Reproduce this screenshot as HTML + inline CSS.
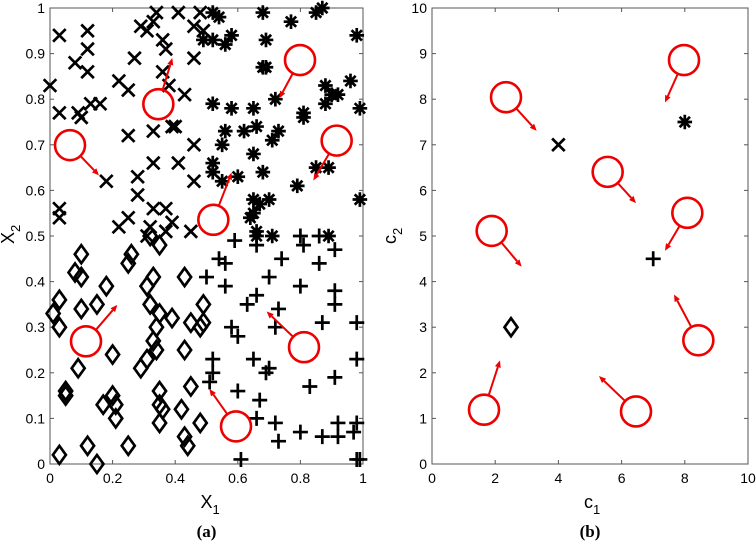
<!DOCTYPE html>
<html><head><meta charset="utf-8"><style>
html,body{margin:0;padding:0;background:#fff;}
svg{display:block;font-family:"Liberation Sans",sans-serif;}
</style></head><body>
<svg id="s" width="756" height="544" xmlns="http://www.w3.org/2000/svg"></svg>
<script>
const S=document.getElementById('s');let h='';
const A={x0:50,x1:363,y0:464,y1:8};
const B={x0:432,x1:748,y0:464,y1:8};
function axes(ax,max,xs,ys,fmt,xl,yl,cap){
  h+=`<rect x="${ax.x0}" y="${ax.y1}" width="${ax.x1-ax.x0}" height="${ax.y0-ax.y1}" fill="none" stroke="#555" stroke-width="1"/>`;
  for(let v=0;v<=max+1e-9;v+=xs){
    const px=ax.x0+(ax.x1-ax.x0)*v/max;
    h+=`<line x1="${px}" y1="${ax.y0}" x2="${px}" y2="${ax.y0-4}" stroke="#555"/><line x1="${px}" y1="${ax.y1}" x2="${px}" y2="${ax.y1+4}" stroke="#555"/>`;
    h+=`<text x="${px}" y="${ax.y0+19}" font-size="14" text-anchor="middle">${fmt(v)}</text>`;
  }
  for(let v=0;v<=max+1e-9;v+=ys){
    const py=ax.y0-(ax.y0-ax.y1)*v/max;
    h+=`<line x1="${ax.x0}" y1="${py}" x2="${ax.x0+4}" y2="${py}" stroke="#555"/><line x1="${ax.x1}" y1="${py}" x2="${ax.x1-4}" y2="${py}" stroke="#555"/>`;
    h+=`<text x="${ax.x0-5}" y="${py+5}" font-size="14" text-anchor="end">${fmt(v)}</text>`;
  }
  const cx=(ax.x0+ax.x1)/2, cy=(ax.y0+ax.y1)/2;
  h+=`<text x="${cx-6}" y="${ax.y0+44}" font-size="18">${xl}<tspan font-size="13" dy="6">1</tspan></text>`;
  h+=`<text transform="translate(${ax.x0-36},${cy+8}) rotate(-90)" font-size="18">${yl}<tspan font-size="13" dy="6">2</tspan></text>`;
  h+=`<text x="${cx}" y="${ax.y0+73}" font-size="17" font-weight="bold" font-family="Liberation Serif,serif" text-anchor="middle">${cap}</text>`;
}
function mk(t,x,y){
  const st='stroke="#000" stroke-width="2.7" fill="none"';
  if(t=='x'){const d=6.3;h+=`<path d="M${x-d} ${y-d}L${x+d} ${y+d}M${x-d} ${y+d}L${x+d} ${y-d}" ${st}/>`;}
  else if(t=='+'){const d=7.5;h+=`<path d="M${x-d} ${y}L${x+d} ${y}M${x} ${y-d}L${x} ${y+d}" ${st}/>`;}
  else if(t=='d'){h+=`<path d="M${x} ${y-9}L${x+6.5} ${y}L${x} ${y+9}L${x-6.5} ${y}Z" ${st} stroke-width="2.6"/>`;}
  else {const d=7.3;let p='';for(let i=0;i<4;i++){const a=i*Math.PI/4;p+=`M${x-d*Math.cos(a)} ${y-d*Math.sin(a)}L${x+d*Math.cos(a)} ${y+d*Math.sin(a)}`;}h+=`<path d="${p}" ${st} stroke-width="2.6"/>`;}
}
function P(ax,max,t,pts){pts.forEach(p=>mk(t,ax.x0+(ax.x1-ax.x0)*p[0]/max,ax.y0-(ax.y0-ax.y1)*p[1]/max));}
axes(A,1,0.2,0.1,v=>{const r=Math.round(v*10)/10;return r.toString();},'X','X','(a)');
axes(B,10,2,1,v=>Math.round(v).toString(),'c','c','(b)');
P(A,1,'x',[[0.03,0.94],[0.12,0.95],[0.12,0.91],[0.12,0.86],[0.08,0.88],[0,0.83],[0.03,0.77],[0.09,0.77],[0.1,0.76],[0.13,0.79],[0.16,0.79],[0.22,0.84],[0.25,0.82],[0.27,0.89],[0.29,0.96],[0.31,0.95],[0.33,0.97],[0.34,0.99],[0.36,0.93],[0.37,0.91],[0.36,0.86],[0.38,0.83],[0.41,0.99],[0.43,0.81],[0.46,0.96],[0.48,0.99],[0.49,0.95],[0.46,0.89],[0.25,0.72],[0.33,0.73],[0.39,0.74],[0.4,0.74],[0.33,0.66],[0.41,0.66],[0.46,0.7],[0.46,0.62],[0.18,0.62],[0.28,0.63],[0.28,0.59],[0.03,0.56],[0.03,0.54],[0.22,0.52],[0.25,0.54],[0.32,0.52],[0.33,0.56],[0.37,0.56],[0.37,0.51],[0.39,0.53],[0.45,0.51],[0.31,0.5]]);
P(A,1,'*',[[0.52,0.99],[0.54,0.98],[0.49,0.93],[0.52,0.93],[0.56,0.92],[0.58,0.94],[0.68,0.99],[0.77,0.97],[0.85,0.99],[0.87,1.0],[0.98,0.94],[0.69,0.93],[0.69,0.87],[0.68,0.87],[0.96,0.84],[0.88,0.83],[0.9,0.81],[0.88,0.79],[0.92,0.81],[0.99,0.78],[0.52,0.79],[0.58,0.78],[0.65,0.78],[0.72,0.8],[0.81,0.76],[0.81,0.77],[0.56,0.73],[0.62,0.73],[0.66,0.74],[0.73,0.73],[0.71,0.71],[0.55,0.7],[0.65,0.68],[0.52,0.66],[0.52,0.64],[0.55,0.62],[0.6,0.63],[0.68,0.64],[0.85,0.65],[0.89,0.65],[0.79,0.61],[0.99,0.58],[0.65,0.58],[0.67,0.57],[0.7,0.58],[0.65,0.55],[0.64,0.54],[0.66,0.5],[0.66,0.51],[0.71,0.5],[0.89,0.5]]);
P(A,1,'+',[[0.59,0.49],[0.66,0.48],[0.8,0.5],[0.81,0.48],[0.86,0.5],[0.91,0.47],[0.54,0.45],[0.56,0.44],[0.74,0.45],[0.86,0.44],[0.5,0.41],[0.7,0.41],[0.56,0.39],[0.66,0.37],[0.8,0.39],[0.91,0.38],[0.63,0.35],[0.73,0.34],[0.91,0.35],[0.58,0.3],[0.72,0.3],[0.87,0.31],[0.98,0.31],[0.6,0.28],[0.52,0.23],[0.65,0.23],[0.98,0.23],[0.52,0.2],[0.7,0.21],[0.69,0.2],[0.51,0.18],[0.91,0.19],[0.6,0.16],[0.83,0.17],[0.67,0.14],[0.66,0.1],[0.72,0.09],[0.8,0.07],[0.87,0.06],[0.92,0.06],[0.92,0.09],[0.97,0.07],[0.98,0.09],[0.73,0.05],[0.61,0.01],[0.98,0.01],[0.99,0.01]]);
P(A,1,'d',[[0.1,0.46],[0.08,0.42],[0.1,0.41],[0.03,0.36],[0.01,0.33],[0.03,0.3],[0.1,0.34],[0.15,0.35],[0.18,0.39],[0.26,0.46],[0.25,0.44],[0.32,0.5],[0.35,0.48],[0.31,0.39],[0.33,0.41],[0.32,0.35],[0.35,0.33],[0.34,0.3],[0.33,0.27],[0.34,0.25],[0.39,0.32],[0.43,0.41],[0.45,0.31],[0.49,0.35],[0.49,0.31],[0.48,0.3],[0.2,0.24],[0.09,0.21],[0.29,0.21],[0.31,0.23],[0.43,0.25],[0.05,0.16],[0.05,0.15],[0.17,0.13],[0.2,0.15],[0.21,0.13],[0.21,0.1],[0.35,0.16],[0.35,0.13],[0.36,0.12],[0.35,0.09],[0.42,0.12],[0.45,0.17],[0.43,0.06],[0.44,0.04],[0.48,0.09],[0.25,0.04],[0.12,0.04],[0.03,0.02],[0.15,0.0]]);
P(B,10,'x',[[4,7]]);P(B,10,'*',[[8,7.5]]);P(B,10,'+',[[7,4.5]]);P(B,10,'d',[[2.5,3]]);
function circ(ox,c,t){
  const cx=c[0]/3+ox, cy=c[1]/2.88, tx=t[0]/3+ox, ty=t[1]/2.88, r=15;
  const dx=tx-cx, dy=ty-cy, L=Math.hypot(dx,dy), ux=dx/L, uy=dy/L;
  const sx=cx+ux*r, sy=cy+uy*r, bx=tx-ux*7, by=ty-uy*7;
  h+=`<circle cx="${cx}" cy="${cy}" r="${r}" fill="none" stroke="#e00" stroke-width="2.6"/>`;
  h+=`<line x1="${sx}" y1="${sy}" x2="${bx}" y2="${by}" stroke="#e00" stroke-width="2"/>`;
  h+=`<path d="M${tx} ${ty}L${bx-uy*3} ${by+ux*3}L${bx+uy*3} ${by-ux*3}Z" fill="#e00"/>`;
}
[[[210,418],[297,505]],[[475,300],[517,167]],[[900,173],[838,283]],[[1010,405],[940,520]],[[640,633],[695,497]],[[258,983],[352,878]],[[912,1000],[800,897]],[[708,1228],[628,1120]]].forEach(a=>circ(0,a[0],a[1]));
[[[378,280],[470,377]],[[912,173],[855,295]],[[683,495],[768,585]],[[922,613],[855,722]],[[335,665],[425,768]],[[955,980],[882,848]],[[312,1180],[360,1038]],[[768,1185],[657,1083]]].forEach(a=>circ(380,a[0],a[1]));
S.innerHTML=h;
</script>
</body></html>
